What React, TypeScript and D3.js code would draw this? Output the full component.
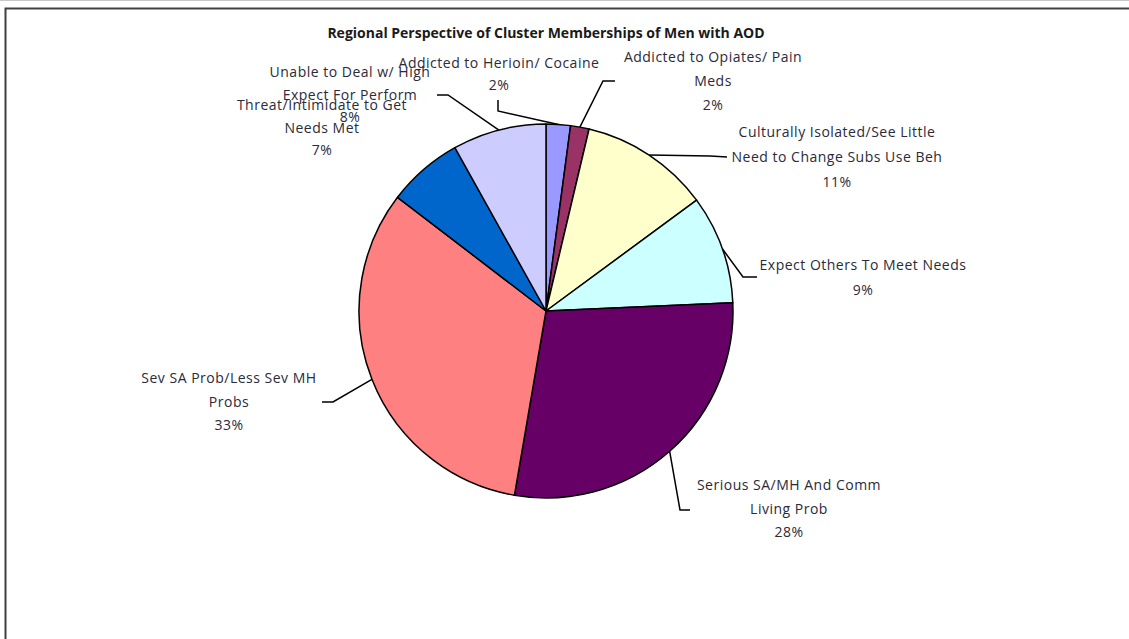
import React from "react";
import * as d3 from "d3";

const categories = [
  ["Addicted to Herioin/ Cocaine"],
  ["Addicted to Opiates/ Pain", "Meds"],
  ["Culturally Isolated/See Little", "Need to Change Subs Use Beh"],
  ["Expect Others To Meet Needs"],
  ["Serious SA/MH And Comm", "Living Prob"],
  ["Sev SA Prob/Less Sev MH", "Probs"],
  ["Threat/Intimidate to Get", "Needs Met"],
  ["Unable to Deal w/ High", "Expect For Perform"],
];
const shares = [2.1, 1.6, 11.2, 9.4, 28.4, 32.7, 6.5, 8.1];
const colors = ["#9999FF", "#993366", "#FFFFCC", "#CCFFFF", "#660066", "#FF8080", "#0066CC", "#CCCCFF"];
const title = "Regional Perspective of Cluster Memberships of Men with AOD";

// label layout: center x, first baseline y, line gap, leader points (label side -> elbow)
const labelLayout = [
  { x: 499, y: 68, gap: 22, leader: [[498, 100], [498, 111]] },
  { x: 713, y: 62, gap: 24, leader: [[615, 81], [603, 81]] },
  { x: 837, y: 137, gap: 25, leader: [[727, 157], [710, 156]] },
  { x: 863, y: 270, gap: 25, leader: [[757, 277], [743, 277]] },
  { x: 789, y: 490, gap: 23.5, leader: [[690, 510], [680, 510]] },
  { x: 229, y: 383, gap: 23.5, leader: [[322, 402], [333, 402]] },
  { x: 322, y: 110, gap: 22.5, leader: null },
  { x: 350, y: 77, gap: 22.5, leader: [[437, 95], [448, 95]] },
];

const W = 1129;
const H = 639;
const cx = 546;
const cy = 311;
const R = 187;

export default function App() {
  const pie = d3.pie<number>().sort(null).value((d) => d).startAngle(0).endAngle(2 * Math.PI);
  const arcs = pie(shares);
  const arc = d3.arc<d3.PieArcDatum<number>>().innerRadius(0).outerRadius(R);
  const total = d3.sum(shares);
  const font = "'Open Sans', 'Liberation Sans', sans-serif";

  return (
    <svg width={W} height={H} style={{ position: "fixed", left: 0, top: 0, background: "#fff" }}>
      <rect x={0} y={0} width={W} height={H} fill="#fff" />
      <line x1={0} x2={W} y1={0.5} y2={0.5} stroke="#c8c8c8" strokeWidth={1} />
      <rect x={5.5} y={8.5} width={W + 20} height={H + 20} fill="none" stroke="#404040" strokeWidth={2} />
      <text x={546} y={38} textAnchor="middle" fontFamily={font} fontWeight="bold" fontSize={14} fill="#1a1a1a">
        {title}
      </text>
      <g transform={`translate(${cx},${cy})`}>
        {arcs.map((a, i) => (
          <path key={i} d={arc(a) || ""} fill={colors[i]} stroke="#000" strokeWidth={1.5} strokeLinejoin="round" />
        ))}
      </g>
      {arcs.map((a, i) => {
        const L = labelLayout[i];
        const mid = (a.startAngle + a.endAngle) / 2;
        const px = cx + R * Math.sin(mid);
        const py = cy - R * Math.cos(mid);
        const lines = [...categories[i], `${Math.round((shares[i] / total) * 100)}%`];
        return (
          <g key={i}>
            {L.leader && (
              <polyline
                points={[...L.leader, [px, py]].map((p) => p.join(",")).join(" ")}
                fill="none"
                stroke="#000"
                strokeWidth={1.5}
              />
            )}
            {lines.map((t, j) => (
              <text
                key={j}
                x={L.x}
                y={L.y + j * L.gap}
                textAnchor="middle"
                fontFamily={font}
                fontSize={14}
                letterSpacing={0.5}
                fill="#2a2a3a"
              >
                {t}
              </text>
            ))}
          </g>
        );
      })}
    </svg>
  );
}
